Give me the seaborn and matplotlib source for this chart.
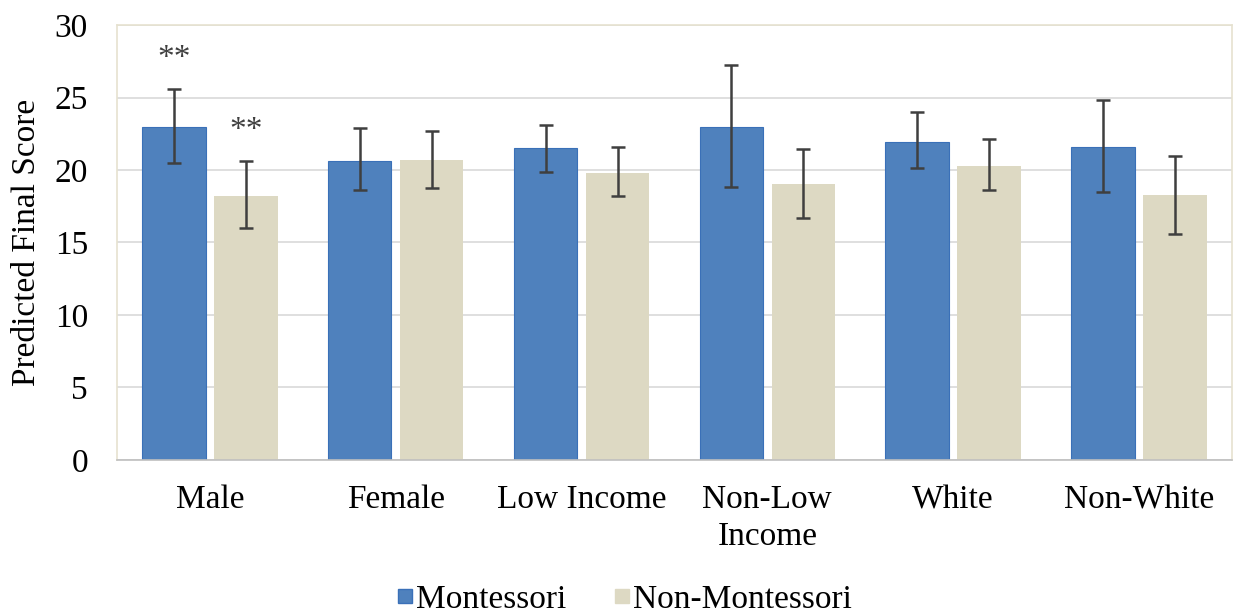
import numpy as np
import pandas as pd
import matplotlib
matplotlib.use("Agg")
import matplotlib.pyplot as plt
import seaborn as sns

groups = ["Male", "Female", "Low Income", "Non-Low\nIncome", "White", "Non-White"]
schools = ["Montessori", "Non-Montessori"]

mont_score = [23.0, 20.65, 21.5, 22.97, 21.96, 21.6]
mont_hi = [25.57, 22.9, 23.13, 27.28, 24.0, 24.83]
mont_lo = [20.5, 18.65, 19.84, 18.85, 20.17, 18.46]

non_score = [18.23, 20.67, 19.82, 19.06, 20.28, 18.25]
non_hi = [20.62, 22.72, 21.57, 21.48, 22.12, 20.97]
non_lo = [16.0, 18.74, 18.18, 16.69, 18.65, 15.56]

# significance marks (** above the error bar)
mont_sig = ["**", "", "", "", "", ""]
non_sig = ["**", "", "", "", "", ""]

colors = {"Montessori": "#4F81BD", "Non-Montessori": "#DDD9C3"}

df = pd.DataFrame({
    "group": groups * 2,
    "school": [schools[0]] * len(groups) + [schools[1]] * len(groups),
    "score": mont_score + non_score,
})

sns.set_style("white")
plt.rcParams["font.family"] = ["Liberation Serif", "DejaVu Serif"]
plt.rcParams["text.color"] = "black"
plt.rcParams["xtick.color"] = "black"
plt.rcParams["ytick.color"] = "black"
plt.rcParams["axes.labelcolor"] = "black"

fig = plt.figure(figsize=(12.33, 6.13), dpi=100)
ax = fig.add_axes([0.095, 0.25, 0.904, 0.709])

sns.barplot(data=df, x="group", y="score", hue="school", order=groups,
            hue_order=schools, palette=colors, width=0.775, gap=0.12,
            errorbar=None, saturation=1, ax=ax, zorder=2)

# edge colour of the blue bars
for bar in ax.containers[0]:
    bar.set_edgecolor("#3A70B8")
    bar.set_linewidth(0.8)
for bar in ax.containers[1]:
    bar.set_edgecolor("none")

series = [(mont_score, mont_hi, mont_lo, mont_sig), (non_score, non_hi, non_lo, non_sig)]
for cont, (sc, hi, lo, sig) in zip(ax.containers, series):
    xs = [b.get_x() + b.get_width() / 2 for b in cont]
    sc = np.array(sc)
    yerr = [sc - np.array(lo), np.array(hi) - sc]
    ax.errorbar(xs, sc, yerr=yerr, fmt="none", ecolor="#3F3F3F",
                elinewidth=1.8, capsize=5, capthick=1.8, zorder=3)
    for x, h, s in zip(xs, hi, sig):
        if s:
            ax.text(x, h + 2.1, s, ha="center", va="center", fontsize=24,
                    color="#3F3F3F")

ax.set_ylim(0, 30)
ax.set_xlim(-0.5, len(groups) - 0.5)
ax.set_yticks(range(0, 31, 5))
ax.yaxis.grid(True, color="#D9D9D9", linewidth=1.2, zorder=0)
ax.set_axisbelow(True)

ax.set_xlabel("")
ax.set_ylabel("Predicted Final Score", fontsize=24, labelpad=9)
ax.tick_params(axis="y", labelsize=24, length=0, pad=21)
ax.tick_params(axis="x", labelsize=24, length=0, pad=18)
for lab in ax.get_xticklabels():
    lab.set_linespacing(1.25)

for side in ["left", "top", "right"]:
    ax.spines[side].set_color("#E6E2D0")
    ax.spines[side].set_linewidth(1.2)
ax.spines["bottom"].set_color("#BFBFBF")
ax.spines["bottom"].set_linewidth(1.2)

ax.legend_.remove()
handles = [plt.Line2D([], [], marker="s", linestyle="none", markersize=10,
                      markerfacecolor=colors[s],
                      markeredgecolor="#3A70B8" if s == "Montessori" else colors[s])
           for s in schools]
fig.legend(handles, schools, loc="lower center", bbox_to_anchor=(0.505, -0.052),
           ncol=2, frameon=False, fontsize=24, handletextpad=0.0,
           columnspacing=1.3, handlelength=0.7)

fig.savefig("out.png", dpi=100)
